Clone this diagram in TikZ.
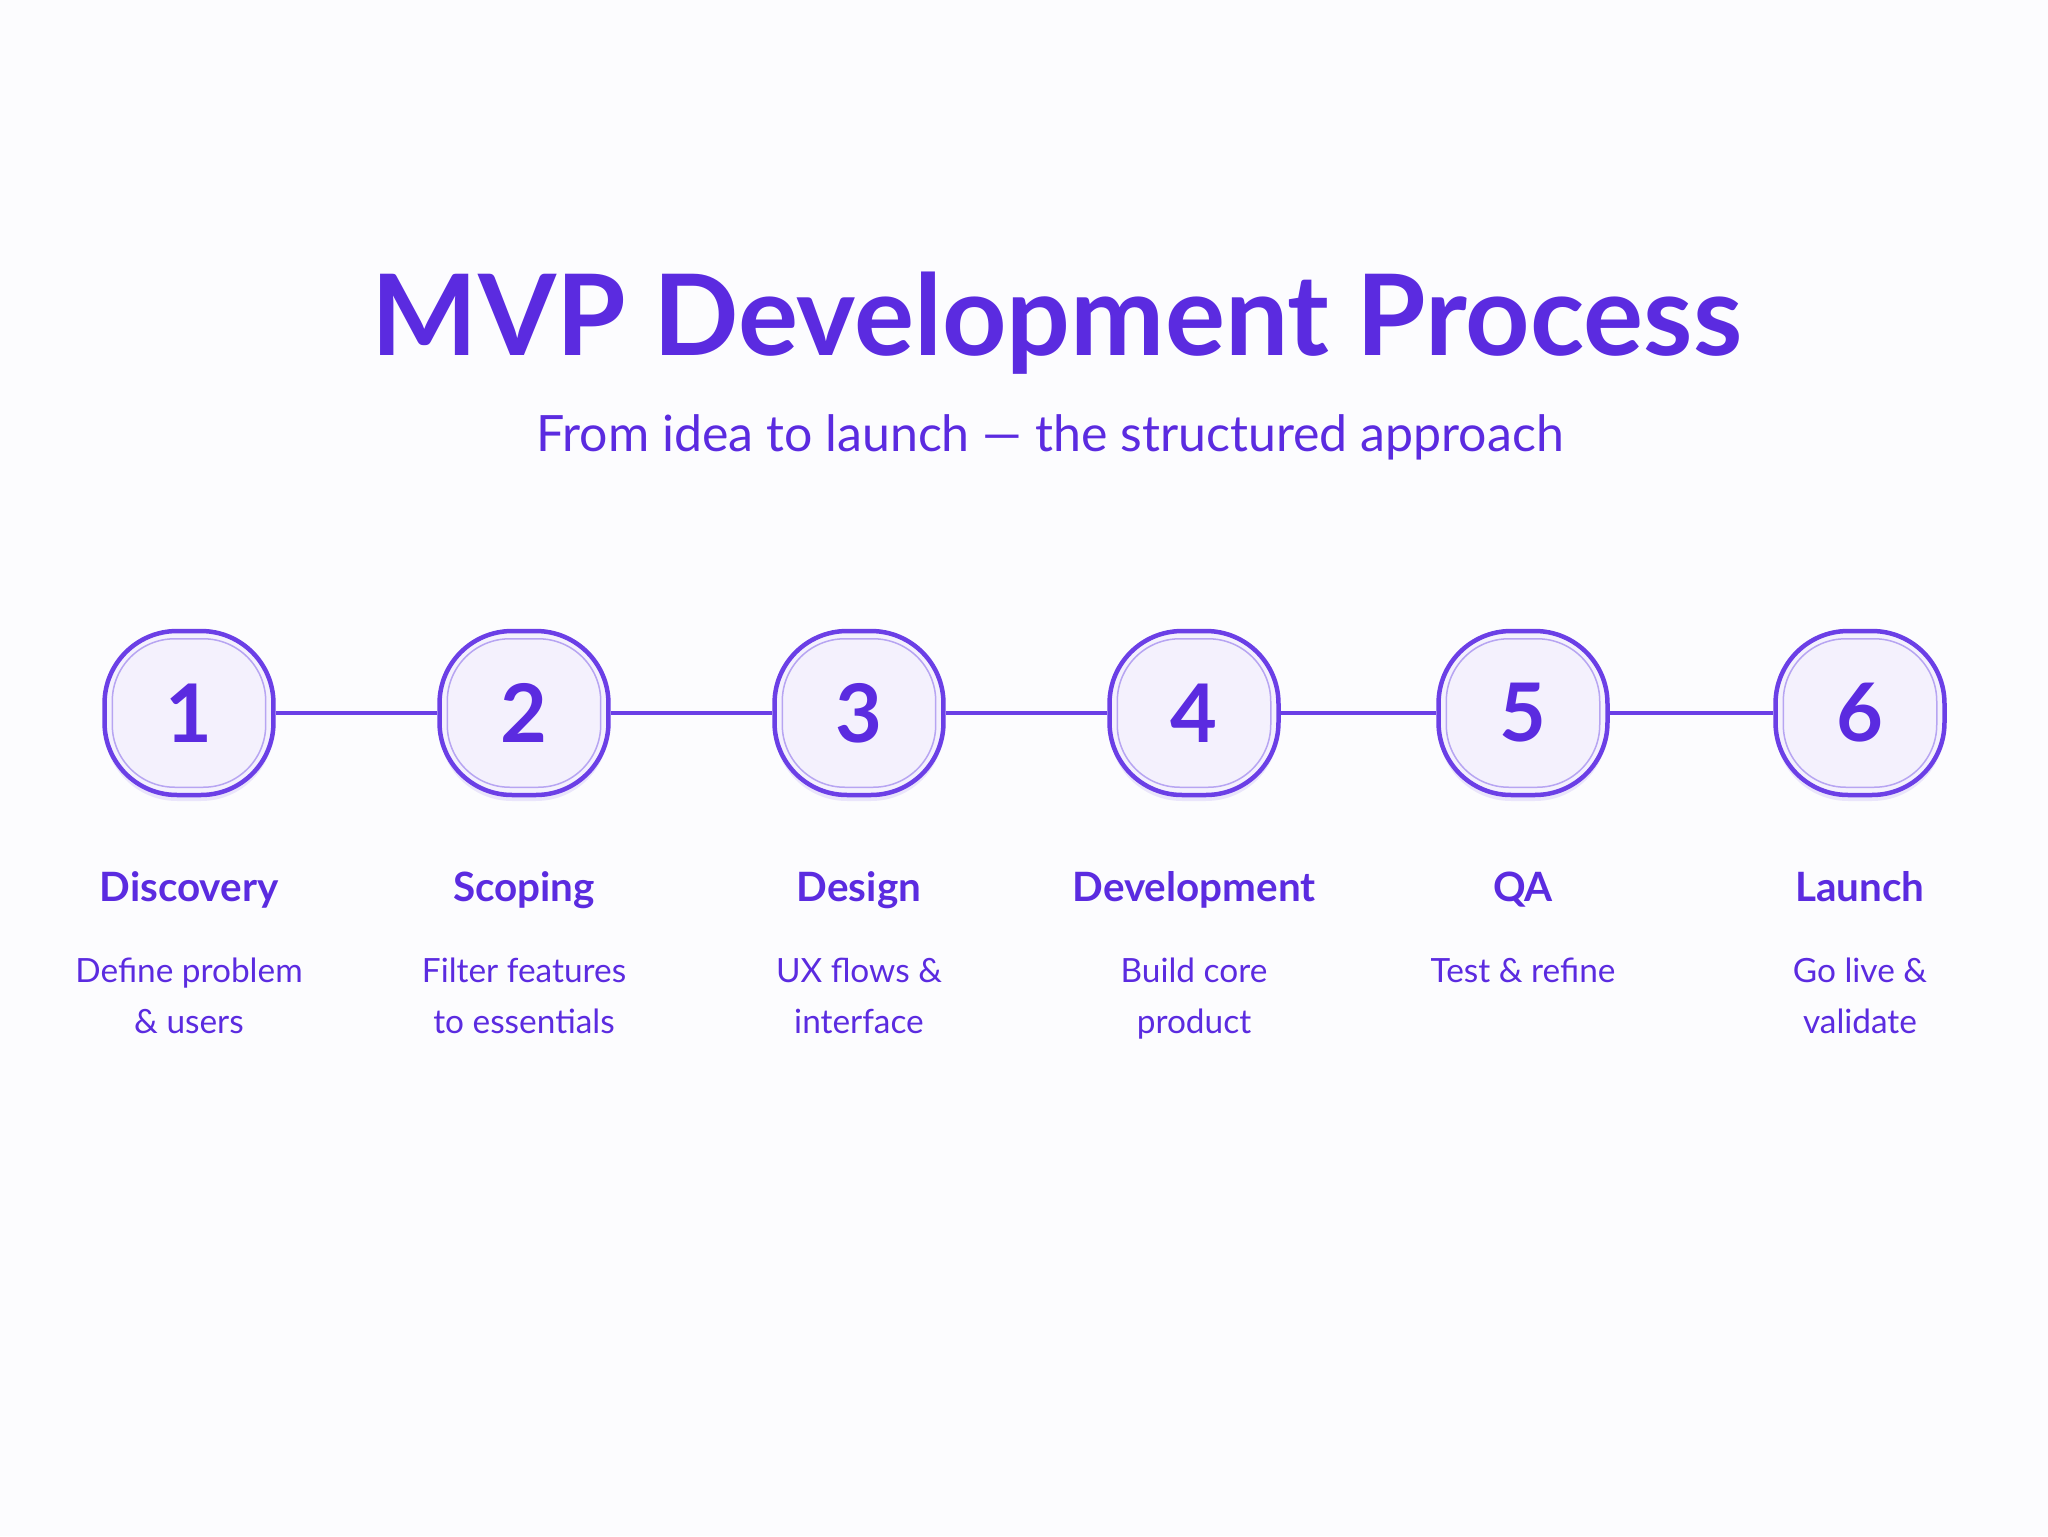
\documentclass[tikz,border=0pt]{standalone}
\usepackage{fontspec}
\setmainfont{Lato}
\usepackage{tikz}
\usetikzlibrary{positioning,shadows}

\definecolor{mvpviolet}{HTML}{5B2BE0}
\definecolor{mvpring}{HTML}{6B3FE6}
\definecolor{mvpinner}{HTML}{B7A5F2}
\definecolor{mvpfill}{HTML}{F4F1FD}
\definecolor{mvpback}{HTML}{FCFCFE}

\tikzset{
  stepnode/.style={rectangle, rounded corners=1.45cm, minimum width=3.38cm, minimum height=3.28cm,
    draw=mvpring, line width=0.09cm, fill=mvpfill, text=mvpviolet,
    font=\fontsize{46}{50}\selectfont\bfseries,
    drop shadow={opacity=0.12, shadow xshift=0, shadow yshift=-0.12cm, fill=mvpring}},
  stepname/.style={text=mvpviolet, anchor=base, font=\fontsize{23}{26}\selectfont\bfseries},
  stepdesc/.style={text=mvpviolet, align=center, font=\fontsize{19}{29}\selectfont},
  link/.style={draw=mvpring, line width=0.08cm}
}

\begin{document}
\begin{tikzpicture}[x=0.02cm, y=-0.02cm]
\fill[mvpback] (0,0) rectangle (2048,1536);
\useasboundingbox (0,0) rectangle (2048,1536);

\node[text=mvpviolet, font=\fontsize{64}{70}\selectfont\bfseries] (title) at (1057,323) {MVP Development Process};
\node[text=mvpviolet, font=\fontsize{28.5}{32}\selectfont] (subtitle) at (1050,437) {From idea to launch — the structured approach};

% steps
\foreach \i/\x/\name/\desc in {1/189/Discovery/{Define problem\\\& users},
  2/524/Scoping/{Filter features\\to essentials},
  3/859/Design/{UX flows \&\\interface},
  4/1194/Development/{Build core\\product},
  5/1523/QA/{Test \& refine},
  6/1860/Launch/{Go live \&\\validate}} {
  \node[stepnode] (s\i) at (\x,713) {\i};
  \draw[mvpinner, line width=0.03cm, rounded corners=1.25cm]
    ([shift={(10,10)}]s\i.north west) rectangle ([shift={(-10,-10)}]s\i.south east);
  \node[stepname] (n\i) at (\x,901) {\name};
  \node[stepdesc, anchor=north] (d\i) at (\x,952) {\desc};
}

% connectors
\foreach \a/\b in {1/2,2/3,3/4,4/5,5/6}
  \draw[link] (s\a) -- (s\b);
\end{tikzpicture}
\end{document}
